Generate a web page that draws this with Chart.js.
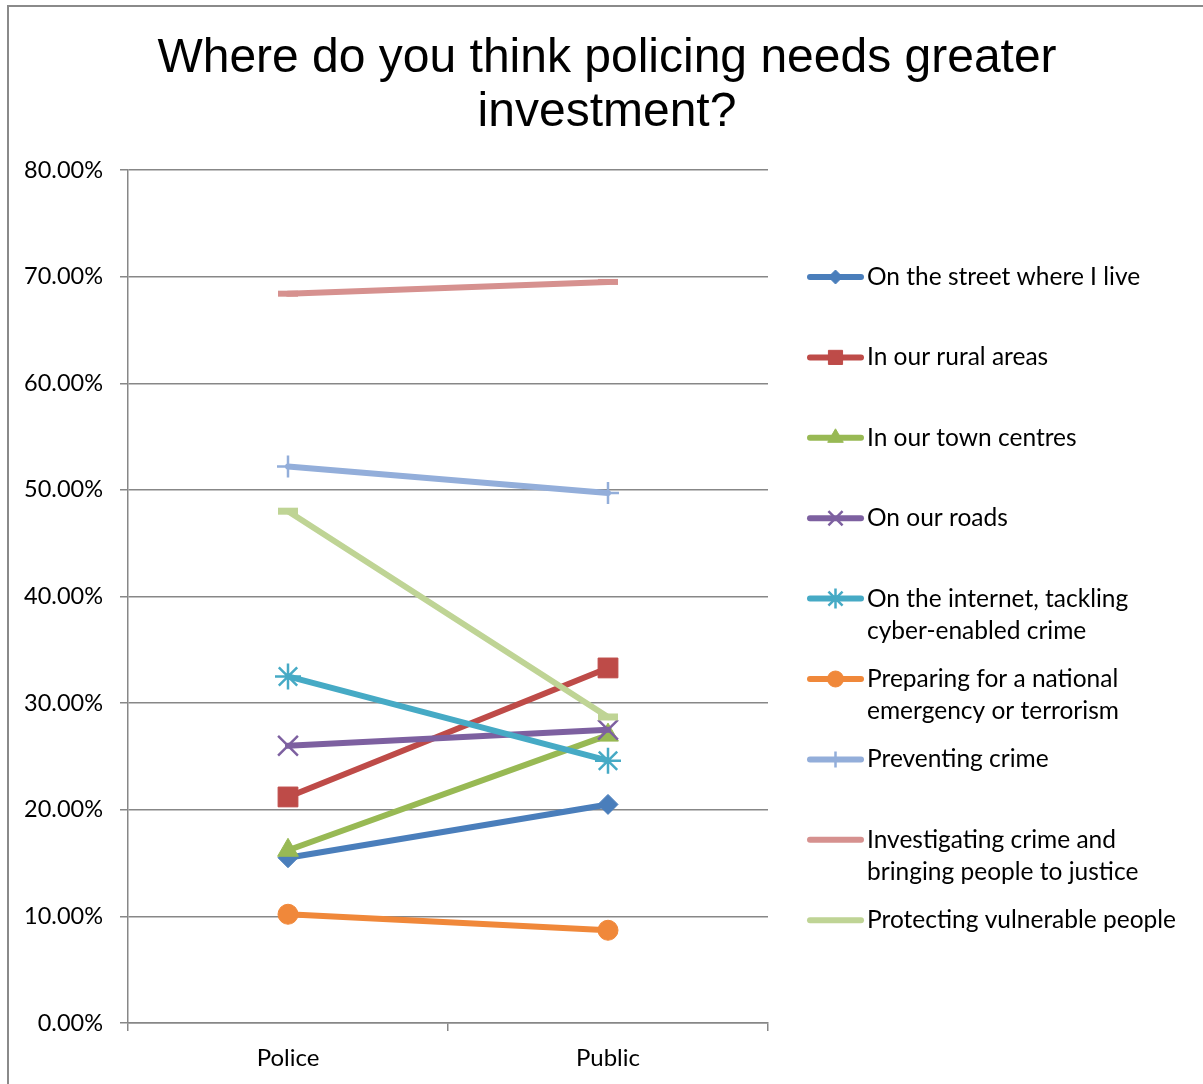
<!DOCTYPE html>
<html>
<head>
<meta charset="utf-8">
<title>Where do you think policing needs greater investment?</title>
<script src="https://cdn.jsdelivr.net/npm/chart.js@4.4.1/dist/chart.umd.min.js"></script>
<style>
	html, body { margin: 0; padding: 0; background: #fff; }
	#wrap { position: relative; width: 1203px; height: 1084px; overflow: hidden; }
	#frame { position: absolute; left: 7px; top: 5px; width: 1210px; height: 1100px; border: 2px solid #8a8a8a; pointer-events: none; }
</style>
</head>
<body>
<div id="wrap">
	<canvas id="grafico" width="1203" height="1084"></canvas>
	<div id="frame"></div>
</div>
<script>
var titleLines = ['Where do you think policing needs greater', 'investment?'];
var categories = ['Police', 'Public'];

var seriesNames = [
	'On the street where I live',
	'In our rural areas',
	'In our town centres',
	'On our roads',
	'On the internet, tackling\ncyber-enabled crime',
	'Preparing for a national\nemergency or terrorism',
	'Preventing crime',
	'Investigating crime and\nbringing people to justice',
	'Protecting vulnerable people'
];

// percentages, Police then Public
var streetWhereILive = [15.5, 20.5];
var ruralAreas = [21.2, 33.3];
var townCentres = [16.2, 27.0];
var ourRoads = [26.0, 27.5];
var internetCyberCrime = [32.5, 24.6];
var nationalEmergency = [10.2, 8.7];
var preventingCrime = [52.2, 49.7];
var investigatingCrime = [68.4, 69.5];
var protectingVulnerable = [48.0, 28.7];

var yMin = 0;
var yMax = 80;
var yStep = 10;

var seriesValues = [streetWhereILive, ruralAreas, townCentres, ourRoads, internetCyberCrime,
	nationalEmergency, preventingCrime, investigatingCrime, protectingVulnerable];

// style per series: colour, marker, marker radius, marker border, legend marker radius
var estilos = [
	{ cor: '#4A7EBB', marcador: 'rectRot', raio: 10, borda: 1, raioLegenda: 7 },
	{ cor: '#BE4B48', marcador: 'rect', raio: 14, borda: 1, raioLegenda: 10 },
	{ cor: '#98B954', marcador: 'triangle', raio: 12, borda: 1, raioLegenda: 9 },
	{ cor: '#7D60A0', marcador: 'crossRot', raio: 14, borda: 2.5, raioLegenda: 10 },
	{ cor: '#46AAC5', marcador: 'star', raio: 13, borda: 2.5, raioLegenda: 10 },
	{ cor: '#F0883A', marcador: 'circle', raio: 10, borda: 1, raioLegenda: 8 },
	{ cor: '#93AEDA', marcador: 'cross', raio: 11, borda: 2.5, raioLegenda: 8 },
	{ cor: '#D6918F', marcador: 'line', raio: 10, borda: 6, raioLegenda: 0 },
	{ cor: '#BFD495', marcador: 'line', raio: 10, borda: 7, raioLegenda: 0 }
];

var fonteTexto = 'Lato, "Open Sans", sans-serif';
var corGrade = '#878787';

var datasets = seriesValues.map(function(valores, i) {
	var e = estilos[i];
	return {
		label: seriesNames[i].replace('\n', ' '),
		data: valores,
		borderColor: e.cor,
		backgroundColor: e.cor,
		borderWidth: 6,
		borderCapStyle: 'round',
		pointStyle: e.marcador,
		pointRadius: e.raio,
		pointHoverRadius: e.raio,
		pointBorderWidth: e.borda,
		pointBackgroundColor: e.cor,
		pointBorderColor: e.cor,
		order: seriesValues.length - i,
		clip: false
	};
});

var pluginTitulo = {
	id: 'tituloGrafico',
	afterDraw: function(chart) {
		var ctx = chart.ctx;
		ctx.save();
		ctx.fillStyle = '#000';
		ctx.font = '48px "Liberation Sans", Arial, sans-serif';
		ctx.textAlign = 'center';
		ctx.textBaseline = 'alphabetic';
		titleLines.forEach(function(linha, i) {
			ctx.fillText(linha, 607, 72 + i * 54);
		});
		ctx.restore();
	}
};

var pluginLegenda = {
	id: 'legendaLateral',
	afterDraw: function(chart) {
		var ctx = chart.ctx;
		ctx.save();
		chart.data.datasets.forEach(function(ds, i) {
			var e = estilos[i];
			var y = 277 + i * 80.4;
			ctx.strokeStyle = e.cor;
			ctx.fillStyle = e.cor;
			ctx.lineWidth = 6;
			ctx.lineCap = 'round';
			ctx.beginPath();
			ctx.moveTo(810, y);
			ctx.lineTo(861, y);
			ctx.stroke();
			if (e.raioLegenda > 0) {
				ctx.lineWidth = e.borda;
				ctx.lineCap = 'butt';
				Chart.helpers.drawPoint(ctx, {
					pointStyle: e.marcador,
					radius: e.raioLegenda,
					rotation: 0,
					borderWidth: e.borda
				}, 835.5, y);
			}
			ctx.fillStyle = '#000';
			ctx.font = '24.5px ' + fonteTexto;
			ctx.textAlign = 'left';
			ctx.textBaseline = 'middle';
			seriesNames[i].split('\n').forEach(function(linha, j) {
				ctx.fillText(linha, 867, y + j * 32.5);
			});
		});
		ctx.restore();
	}
};

var grafico = new Chart(document.getElementById('grafico').getContext('2d'), {
	type: 'line',
	data: {
		labels: categories,
		datasets: datasets
	},
	options: {
		responsive: false,
		animation: false,
		layout: { padding: { left: 0, right: 435, top: 170, bottom: 0 } },
		plugins: {
			legend: { display: false },
			title: { display: false },
			tooltip: { enabled: false }
		},
		scales: {
			x: {
				offset: true,
				grid: { offset: true, drawOnChartArea: false, drawTicks: true, tickLength: 8, color: corGrade, lineWidth: 1.5 },
				border: { color: corGrade, width: 1.5 },
				ticks: { color: '#000', font: { family: fonteTexto, size: 24 }, padding: 13 },
				afterFit: function(scale) { scale.height = 61; }
			},
			y: {
				min: yMin,
				max: yMax,
				grid: { color: corGrade, lineWidth: 1.5, tickLength: 8, drawTicks: true },
				border: { color: corGrade, width: 1.5 },
				ticks: {
					stepSize: yStep,
					color: '#000',
					font: { family: fonteTexto, size: 23.5 },
					padding: 17,
					callback: function(v) { return v.toFixed(2) + '%'; }
				},
				afterFit: function(scale) { scale.width = 128; }
			}
		}
	},
	plugins: [pluginTitulo, pluginLegenda]
});
</script>
</body>
</html>
